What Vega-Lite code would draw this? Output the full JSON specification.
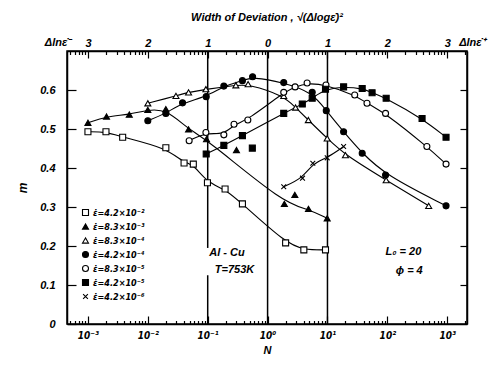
{
  "$schema": "https://vega.github.io/schema/vega-lite/v6.json",
  "width": 400,
  "height": 273,
  "autosize": {"type": "none"},
  "padding": {"left": 67, "top": 51, "right": 29, "bottom": 43},
  "background": "white",
  "config": {
    "view": {"stroke": "black", "strokeWidth": 1.5},
    "font": "Liberation Sans",
    "axis": {
      "labelFont": "Liberation Sans",
      "labelFontStyle": "italic",
      "labelFontWeight": "bold",
      "labelColor": "black",
      "tickColor": "black",
      "tickWidth": 1.2,
      "domainColor": "black",
      "domainWidth": 1.5,
      "grid": false,
      "titleFont": "Liberation Sans",
      "titleFontStyle": "italic",
      "titleFontWeight": "bold",
      "titleColor": "black",
      "labelOverlap": false,
      "labelFlush": false
    },
    "legend": {
      "symbolStrokeColor": "black",
      "symbolStrokeWidth": 1.1,
      "symbolOpacity": 1
    }
  },
  "title": {
    "text": "Width of Deviation ,  \u221a(\u0394log\u03b5\u0307)\u00b2",
    "font": "Liberation Sans",
    "fontSize": 11,
    "fontStyle": "italic",
    "fontWeight": "bold",
    "color": "black",
    "anchor": "middle",
    "offset": 14
  },
  "datasets": {
    "rules": [
      {"N": 0.1, "lo": 0.195, "hi": 0.7},
      {"N": 0.1, "lo": 0, "hi": 0.125},
      {"N": 1, "lo": 0, "hi": 0.7},
      {"N": 10, "lo": 0, "hi": 0.7}
    ],
    "notes": [
      {"t": "Al - Cu", "N": 0.21, "m": 0.182},
      {"t": "T=753K", "N": 0.28, "m": 0.138},
      {"t": "L\u2080 = 20", "N": 185, "m": 0.185},
      {"t": "\u03d5 = 4", "N": 232, "m": 0.136},
      {"t": "\u0394ln\u03b5\u0307\u207b", "N": 0.000316, "m": 0.72},
      {"t": "\u0394ln\u03b5\u0307\u207a", "N": 2630, "m": 0.72}
    ],
    "pts": [
      {"s": "\u03b5\u0307=4.2\u00d710\u207b\u00b2", "N": 0.001, "m": 0.493, "fit": true},
      {"s": "\u03b5\u0307=4.2\u00d710\u207b\u00b2", "N": 0.002, "m": 0.493, "fit": true},
      {"s": "\u03b5\u0307=4.2\u00d710\u207b\u00b2", "N": 0.0038, "m": 0.479, "fit": true},
      {"s": "\u03b5\u0307=4.2\u00d710\u207b\u00b2", "N": 0.02, "m": 0.452, "fit": true},
      {"s": "\u03b5\u0307=4.2\u00d710\u207b\u00b2", "N": 0.0403, "m": 0.413, "fit": true},
      {"s": "\u03b5\u0307=4.2\u00d710\u207b\u00b2", "N": 0.0575, "m": 0.41, "fit": true},
      {"s": "\u03b5\u0307=4.2\u00d710\u207b\u00b2", "N": 0.099, "m": 0.362, "fit": true},
      {"s": "\u03b5\u0307=4.2\u00d710\u207b\u00b2", "N": 0.195, "m": 0.346, "fit": true},
      {"s": "\u03b5\u0307=4.2\u00d710\u207b\u00b2", "N": 0.38, "m": 0.308, "fit": true},
      {"s": "\u03b5\u0307=4.2\u00d710\u207b\u00b2", "N": 2.0, "m": 0.208, "fit": true},
      {"s": "\u03b5\u0307=4.2\u00d710\u207b\u00b2", "N": 4.03, "m": 0.19, "fit": true},
      {"s": "\u03b5\u0307=4.2\u00d710\u207b\u00b2", "N": 9.27, "m": 0.19, "fit": true},

      {"s": "\u03b5\u0307=8.3\u00d710\u207b\u00b3", "N": 0.001, "m": 0.516, "fit": true},
      {"s": "\u03b5\u0307=8.3\u00d710\u207b\u00b3", "N": 0.00204, "m": 0.532, "fit": true},
      {"s": "\u03b5\u0307=8.3\u00d710\u207b\u00b3", "N": 0.0049, "m": 0.537, "fit": true},
      {"s": "\u03b5\u0307=8.3\u00d710\u207b\u00b3", "N": 0.01, "m": 0.549, "fit": true},
      {"s": "\u03b5\u0307=8.3\u00d710\u207b\u00b3", "N": 0.02, "m": 0.551, "fit": true},
      {"s": "\u03b5\u0307=8.3\u00d710\u207b\u00b3", "N": 0.0479, "m": 0.499, "fit": true},
      {"s": "\u03b5\u0307=8.3\u00d710\u207b\u00b3", "N": 0.0955, "m": 0.474, "fit": true},
      {"s": "\u03b5\u0307=8.3\u00d710\u207b\u00b3", "N": 0.302, "m": 0.446, "fit": false},
      {"s": "\u03b5\u0307=8.3\u00d710\u207b\u00b3", "N": 1.905, "m": 0.308, "fit": true},
      {"s": "\u03b5\u0307=8.3\u00d710\u207b\u00b3", "N": 2.85, "m": 0.331, "fit": false},
      {"s": "\u03b5\u0307=8.3\u00d710\u207b\u00b3", "N": 4.82, "m": 0.295, "fit": true},
      {"s": "\u03b5\u0307=8.3\u00d710\u207b\u00b3", "N": 9.89, "m": 0.271, "fit": true},

      {"s": "\u03b5\u0307=8.3\u00d710\u207b\u2074", "N": 0.01, "m": 0.566, "fit": true},
      {"s": "\u03b5\u0307=8.3\u00d710\u207b\u2074", "N": 0.0295, "m": 0.585, "fit": true},
      {"s": "\u03b5\u0307=8.3\u00d710\u207b\u2074", "N": 0.0479, "m": 0.594, "fit": true},
      {"s": "\u03b5\u0307=8.3\u00d710\u207b\u2074", "N": 0.0933, "m": 0.602, "fit": true},
      {"s": "\u03b5\u0307=8.3\u00d710\u207b\u2074", "N": 0.295, "m": 0.612, "fit": true},
      {"s": "\u03b5\u0307=8.3\u00d710\u207b\u2074", "N": 0.473, "m": 0.615, "fit": true},
      {"s": "\u03b5\u0307=8.3\u00d710\u207b\u2074", "N": 1.86, "m": 0.585, "fit": true},
      {"s": "\u03b5\u0307=8.3\u00d710\u207b\u2074", "N": 2.93, "m": 0.555, "fit": true},
      {"s": "\u03b5\u0307=8.3\u00d710\u207b\u2074", "N": 4.79, "m": 0.523, "fit": true},
      {"s": "\u03b5\u0307=8.3\u00d710\u207b\u2074", "N": 9.89, "m": 0.476, "fit": true},
      {"s": "\u03b5\u0307=8.3\u00d710\u207b\u2074", "N": 19.95, "m": 0.433, "fit": true},
      {"s": "\u03b5\u0307=8.3\u00d710\u207b\u2074", "N": 95.5, "m": 0.369, "fit": true},
      {"s": "\u03b5\u0307=8.3\u00d710\u207b\u2074", "N": 490, "m": 0.303, "fit": true},

      {"s": "\u03b5\u0307=4.2\u00d710\u207b\u2074", "N": 0.01, "m": 0.521, "fit": true},
      {"s": "\u03b5\u0307=4.2\u00d710\u207b\u2074", "N": 0.02, "m": 0.54, "fit": true},
      {"s": "\u03b5\u0307=4.2\u00d710\u207b\u2074", "N": 0.038, "m": 0.567, "fit": true},
      {"s": "\u03b5\u0307=4.2\u00d710\u207b\u2074", "N": 0.0944, "m": 0.583, "fit": true},
      {"s": "\u03b5\u0307=4.2\u00d710\u207b\u2074", "N": 0.186, "m": 0.61, "fit": true},
      {"s": "\u03b5\u0307=4.2\u00d710\u207b\u2074", "N": 0.38, "m": 0.624, "fit": true},
      {"s": "\u03b5\u0307=4.2\u00d710\u207b\u2074", "N": 0.562, "m": 0.634, "fit": true},
      {"s": "\u03b5\u0307=4.2\u00d710\u207b\u2074", "N": 1.86, "m": 0.619, "fit": true},
      {"s": "\u03b5\u0307=4.2\u00d710\u207b\u2074", "N": 5.56, "m": 0.594, "fit": true},
      {"s": "\u03b5\u0307=4.2\u00d710\u207b\u2074", "N": 9.55, "m": 0.547, "fit": true},
      {"s": "\u03b5\u0307=4.2\u00d710\u207b\u2074", "N": 18.6, "m": 0.493, "fit": true},
      {"s": "\u03b5\u0307=4.2\u00d710\u207b\u2074", "N": 38, "m": 0.438, "fit": true},
      {"s": "\u03b5\u0307=4.2\u00d710\u207b\u2074", "N": 93.3, "m": 0.382, "fit": true},
      {"s": "\u03b5\u0307=4.2\u00d710\u207b\u2074", "N": 955, "m": 0.303, "fit": true},

      {"s": "\u03b5\u0307=8.3\u00d710\u207b\u2075", "N": 0.049, "m": 0.47, "fit": true},
      {"s": "\u03b5\u0307=8.3\u00d710\u207b\u2075", "N": 0.0933, "m": 0.491, "fit": true},
      {"s": "\u03b5\u0307=8.3\u00d710\u207b\u2075", "N": 0.186, "m": 0.485, "fit": true},
      {"s": "\u03b5\u0307=8.3\u00d710\u207b\u2075", "N": 0.275, "m": 0.512, "fit": true},
      {"s": "\u03b5\u0307=8.3\u00d710\u207b\u2075", "N": 0.468, "m": 0.523, "fit": true},
      {"s": "\u03b5\u0307=8.3\u00d710\u207b\u2075", "N": 1.86, "m": 0.594, "fit": true},
      {"s": "\u03b5\u0307=8.3\u00d710\u207b\u2075", "N": 2.88, "m": 0.608, "fit": true},
      {"s": "\u03b5\u0307=8.3\u00d710\u207b\u2075", "N": 4.57, "m": 0.618, "fit": true},
      {"s": "\u03b5\u0307=8.3\u00d710\u207b\u2075", "N": 9.44, "m": 0.613, "fit": true},
      {"s": "\u03b5\u0307=8.3\u00d710\u207b\u2075", "N": 28.5, "m": 0.587, "fit": true},
      {"s": "\u03b5\u0307=8.3\u00d710\u207b\u2075", "N": 45.7, "m": 0.566, "fit": true},
      {"s": "\u03b5\u0307=8.3\u00d710\u207b\u2075", "N": 93.3, "m": 0.54, "fit": true},
      {"s": "\u03b5\u0307=8.3\u00d710\u207b\u2075", "N": 457, "m": 0.455, "fit": true},
      {"s": "\u03b5\u0307=8.3\u00d710\u207b\u2075", "N": 955, "m": 0.41, "fit": true},

      {"s": "\u03b5\u0307=4.2\u00d710\u207b\u2075", "N": 0.0944, "m": 0.436, "fit": true},
      {"s": "\u03b5\u0307=4.2\u00d710\u207b\u2075", "N": 0.186, "m": 0.458, "fit": true},
      {"s": "\u03b5\u0307=4.2\u00d710\u207b\u2075", "N": 0.38, "m": 0.483, "fit": true},
      {"s": "\u03b5\u0307=4.2\u00d710\u207b\u2075", "N": 0.556, "m": 0.451, "fit": false},
      {"s": "\u03b5\u0307=4.2\u00d710\u207b\u2075", "N": 1.86, "m": 0.54, "fit": true},
      {"s": "\u03b5\u0307=4.2\u00d710\u207b\u2075", "N": 3.8, "m": 0.564, "fit": true},
      {"s": "\u03b5\u0307=4.2\u00d710\u207b\u2075", "N": 5.56, "m": 0.579, "fit": true},
      {"s": "\u03b5\u0307=4.2\u00d710\u207b\u2075", "N": 9.27, "m": 0.602, "fit": true},
      {"s": "\u03b5\u0307=4.2\u00d710\u207b\u2075", "N": 18.6, "m": 0.608, "fit": true},
      {"s": "\u03b5\u0307=4.2\u00d710\u207b\u2075", "N": 38, "m": 0.604, "fit": true},
      {"s": "\u03b5\u0307=4.2\u00d710\u207b\u2075", "N": 55.6, "m": 0.593, "fit": true},
      {"s": "\u03b5\u0307=4.2\u00d710\u207b\u2075", "N": 95.5, "m": 0.579, "fit": true},
      {"s": "\u03b5\u0307=4.2\u00d710\u207b\u2075", "N": 380, "m": 0.527, "fit": true},
      {"s": "\u03b5\u0307=4.2\u00d710\u207b\u2075", "N": 955, "m": 0.479, "fit": true},

      {"s": "\u03b5\u0307=4.2\u00d710\u207b\u2076", "N": 1.86, "m": 0.352, "fit": true},
      {"s": "\u03b5\u0307=4.2\u00d710\u207b\u2076", "N": 3.83, "m": 0.374, "fit": true},
      {"s": "\u03b5\u0307=4.2\u00d710\u207b\u2076", "N": 5.69, "m": 0.412, "fit": true},
      {"s": "\u03b5\u0307=4.2\u00d710\u207b\u2076", "N": 9.89, "m": 0.426, "fit": true},
      {"s": "\u03b5\u0307=4.2\u00d710\u207b\u2076", "N": 18.6, "m": 0.455, "fit": true}
    ]
  },
  "layer": [
    {
      "data": {"name": "rules"},
      "mark": {"type": "rule", "color": "black", "strokeWidth": 1.5},
      "encoding": {
        "x": {
          "field": "N", "type": "quantitative",
          "scale": {"type": "log", "domain": [0.000447, 2138], "nice": false},
          "axis": {
            "orient": "bottom",
            "values": [0.001, 0.01, 0.1, 1, 10, 100, 1000],
            "tickSize": -8,
            "labelPadding": 14,
            "labelFont": "DejaVu Sans Condensed",
            "labelFontSize": 10,
            "labelExpr": "round(log(datum.value)/LN10)==-3?'10\u207b\u00b3':round(log(datum.value)/LN10)==-2?'10\u207b\u00b2':round(log(datum.value)/LN10)==-1?'10\u207b\u00b9':round(log(datum.value)/LN10)==0?'10\u2070':round(log(datum.value)/LN10)==1?'10\u00b9':round(log(datum.value)/LN10)==2?'10\u00b2':'10\u00b3'",
            "title": "N",
            "titleFontSize": 11,
            "titlePadding": 4
          }
        },
        "y": {
          "field": "lo", "type": "quantitative",
          "scale": {"domain": [0, 0.7], "nice": false, "zero": false},
          "axis": {
            "orient": "left",
            "values": [0, 0.1, 0.2, 0.3, 0.4, 0.5, 0.6],
            "tickSize": -9,
            "labelPadding": 21,
            "labelFontSize": 11,
            "labelExpr": "datum.value==0?'0':format(datum.value,'.1f')",
            "title": "m",
            "titleFontSize": 12,
            "titlePadding": 10
          }
        },
        "y2": {"field": "hi"}
      }
    },
    {
      "data": {"name": "pts"},
      "transform": [{"filter": "datum.fit"}],
      "mark": {"type": "line", "interpolate": "basis", "color": "black", "strokeWidth": 1.1},
      "encoding": {
        "x": {
          "field": "N", "type": "quantitative",
          "scale": {"type": "log", "domain": [0.000447, 2138], "nice": false},
          "axis": {
            "orient": "top",
            "values": [0.001, 0.01, 0.1, 1, 10, 100, 1000],
            "tickSize": -7,
            "labelPadding": 10,
            "labelFontSize": 11,
            "labelExpr": "'' + abs(round(log(datum.value)/LN10))",
            "title": null
          }
        },
        "y": {
          "field": "m", "type": "quantitative",
          "scale": {"domain": [0, 0.7], "nice": false, "zero": false},
          "axis": {
            "orient": "right",
            "values": [0.1, 0.2, 0.3, 0.4, 0.5, 0.6],
            "tickSize": -7,
            "labels": false,
            "title": null
          }
        },
        "detail": {"field": "s"}
      }
    },
    {
      "data": {"name": "pts"},
      "mark": {"type": "point", "filled": true, "strokeWidth": 1.1, "opacity": 1},
      "encoding": {
        "x": {
          "field": "N", "type": "quantitative",
          "scale": {"type": "log", "domain": [0.000447, 2138], "nice": false},
          "axis": {
            "orient": "bottom",
            "values": [0.0005, 0.0006, 0.0007, 0.0008, 0.0009, 0.002, 0.003, 0.004, 0.005, 0.006, 0.007, 0.008, 0.009, 0.02, 0.03, 0.04, 0.05, 0.06, 0.07, 0.08, 0.09, 0.2, 0.3, 0.4, 0.5, 0.6, 0.7, 0.8, 0.9, 2, 3, 4, 5, 6, 7, 8, 9, 20, 30, 40, 50, 60, 70, 80, 90, 200, 300, 400, 500, 600, 700, 800, 900, 2000],
            "tickSize": -3.5,
            "labels": false,
            "domain": false,
            "title": null
          }
        },
        "y": {
          "field": "m", "type": "quantitative",
          "scale": {"domain": [0, 0.7], "nice": false, "zero": false},
          "axis": null
        },
        "shape": {
          "field": "s", "type": "nominal",
          "scale": {
            "domain": ["\u03b5\u0307=4.2\u00d710\u207b\u00b2", "\u03b5\u0307=8.3\u00d710\u207b\u00b3", "\u03b5\u0307=8.3\u00d710\u207b\u2074", "\u03b5\u0307=4.2\u00d710\u207b\u2074", "\u03b5\u0307=8.3\u00d710\u207b\u2075", "\u03b5\u0307=4.2\u00d710\u207b\u2075", "\u03b5\u0307=4.2\u00d710\u207b\u2076"],
            "range": ["square", "triangle-up", "triangle-up", "circle", "circle", "square", "M-0.8,-0.8L0.8,0.8M-0.8,0.8L0.8,-0.8"]
          },
          "legend": {
            "orient": "none",
            "legendX": 14,
            "legendY": 157,
            "title": null,
            "padding": 0,
            "labelFont": "DejaVu Sans Condensed",
            "labelFontSize": 9,
            "labelFontStyle": "italic",
            "labelFontWeight": "bold",
            "labelColor": "black",
            "labelOffset": 3,
            "rowPadding": 3,
            "symbolSize": 36
          }
        },
        "fill": {
          "field": "s", "type": "nominal",
          "scale": {
            "domain": ["\u03b5\u0307=4.2\u00d710\u207b\u00b2", "\u03b5\u0307=8.3\u00d710\u207b\u00b3", "\u03b5\u0307=8.3\u00d710\u207b\u2074", "\u03b5\u0307=4.2\u00d710\u207b\u2074", "\u03b5\u0307=8.3\u00d710\u207b\u2075", "\u03b5\u0307=4.2\u00d710\u207b\u2075", "\u03b5\u0307=4.2\u00d710\u207b\u2076"],
            "range": ["white", "black", "white", "black", "white", "black", "black"]
          },
          "legend": {
            "orient": "none",
            "legendX": 14,
            "legendY": 157,
            "title": null
          }
        },
        "stroke": {
          "field": "s", "type": "nominal",
          "scale": {
            "domain": ["\u03b5\u0307=4.2\u00d710\u207b\u00b2", "\u03b5\u0307=8.3\u00d710\u207b\u00b3", "\u03b5\u0307=8.3\u00d710\u207b\u2074", "\u03b5\u0307=4.2\u00d710\u207b\u2074", "\u03b5\u0307=8.3\u00d710\u207b\u2075", "\u03b5\u0307=4.2\u00d710\u207b\u2075", "\u03b5\u0307=4.2\u00d710\u207b\u2076"],
            "range": ["black", "black", "black", "black", "black", "black", "black"]
          },
          "legend": {
            "orient": "none",
            "legendX": 14,
            "legendY": 157,
            "title": null
          }
        },
        "size": {"value": 36}
      }
    },
    {
      "data": {"name": "notes"},
      "mark": {"type": "text", "font": "Liberation Sans", "fontSize": 11, "fontStyle": "italic", "fontWeight": "bold", "color": "black"},
      "encoding": {
        "x": {
          "field": "N", "type": "quantitative",
          "scale": {"type": "log", "domain": [0.000447, 2138], "nice": false},
          "axis": {
            "orient": "top",
            "values": [0.0005, 0.0006, 0.0007, 0.0008, 0.0009, 0.002, 0.003, 0.004, 0.005, 0.006, 0.007, 0.008, 0.009, 0.02, 0.03, 0.04, 0.05, 0.06, 0.07, 0.08, 0.09, 0.2, 0.3, 0.4, 0.5, 0.6, 0.7, 0.8, 0.9, 2, 3, 4, 5, 6, 7, 8, 9, 20, 30, 40, 50, 60, 70, 80, 90, 200, 300, 400, 500, 600, 700, 800, 900, 2000],
            "tickSize": -3.5,
            "labels": false,
            "domain": false,
            "title": null
          }
        },
        "y": {
          "field": "m", "type": "quantitative",
          "scale": {"domain": [0, 0.7], "nice": false, "zero": false},
          "axis": null
        },
        "text": {"field": "t"}
      }
    }
  ],
  "resolve": {"axis": {"x": "independent", "y": "independent"}}
}
